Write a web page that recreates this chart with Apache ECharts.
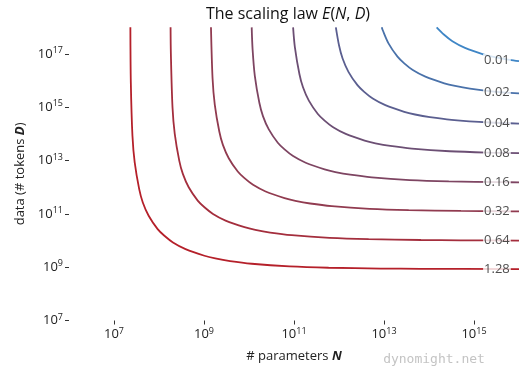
<!DOCTYPE html>
<html><head><meta charset="utf-8">
<script src="https://cdn.jsdelivr.net/npm/echarts@6/dist/echarts.min.js"></script>
<style>html,body{margin:0;padding:0;background:#fff}#c{width:528px;height:375px}</style>
</head><body><div id="c"></div>
<script>
// contour levels of E(N, D) and colours
const levels = ['0.01','0.02','0.04','0.08','0.16','0.32','0.64','1.28'];
const levelColors = ['#3f86c6','#4a72aa','#5b5f90','#6c4f74','#7e4562','#913b50','#a42e3d','#b5202a'];
// curve points: [log10 N, log10 D]
const c001 = [[14.17,18],[14.33,17.73],[14.52,17.48],[14.8,17.23],[15.22,16.98],[15.46,16.88],[15.79,16.78],[16.0,16.73]];
const c002 = [[12.95,18],[12.97,17.9],[13.1,17.4],[13.3,16.9],[13.45,16.65],[13.64,16.4],[13.92,16.15],[14.34,15.9],[14.58,15.8],[14.91,15.7],[15.39,15.6],[16.0,15.52]];
const c004 = [[11.93,18],[12.0,17.33],[12.08,16.83],[12.21,16.33],[12.41,15.83],[12.56,15.58],[12.75,15.33],[13.03,15.08],[13.45,14.83],[13.69,14.73],[14.02,14.63],[14.5,14.53],[15.34,14.43],[16.0,14.39]];
const c008 = [[10.98,18],[11.02,17.25],[11.12,16.25],[11.2,15.75],[11.33,15.25],[11.53,14.75],[11.68,14.5],[11.87,14.25],[12.15,14.0],[12.57,13.75],[12.81,13.65],[13.14,13.55],[13.62,13.45],[14.46,13.35],[15.33,13.3],[16.0,13.28]];
const c016 = [[10.06,18],[10.08,17.17],[10.13,16.17],[10.23,15.17],[10.31,14.67],[10.44,14.17],[10.64,13.67],[10.79,13.42],[10.98,13.17],[11.26,12.92],[11.68,12.67],[11.92,12.57],[12.25,12.47],[12.73,12.37],[13.57,12.27],[14.44,12.22],[15.6,12.19],[16.0,12.185]];
const c032 = [[9.155,18],[9.19,16.09],[9.24,15.09],[9.34,14.09],[9.42,13.59],[9.55,13.09],[9.75,12.59],[9.9,12.34],[10.09,12.09],[10.37,11.84],[10.79,11.59],[11.03,11.49],[11.36,11.39],[11.84,11.29],[12.68,11.19],[13.55,11.14],[14.71,11.11],[15.59,11.1],[16.0,11.095]];
const c064 = [[8.257,18],[8.264,17],[8.3,15],[8.35,14],[8.45,13],[8.53,12.5],[8.66,12],[8.86,11.5],[9.01,11.25],[9.2,11.0],[9.48,10.75],[9.9,10.5],[10.14,10.4],[10.47,10.3],[10.95,10.2],[11.79,10.1],[12.66,10.05],[13.82,10.02],[14.7,10.01],[16.0,10.0]];
const c128 = [[7.364,18],[7.374,15.93],[7.41,13.93],[7.46,12.93],[7.56,11.93],[7.64,11.43],[7.77,10.93],[7.97,10.43],[8.12,10.18],[8.31,9.93],[8.59,9.68],[9.01,9.43],[9.25,9.33],[9.58,9.23],[10.06,9.13],[10.9,9.03],[11.77,8.98],[12.93,8.95],[13.81,8.94],[16.0,8.93]];
const curves = [c001,c002,c004,c008,c016,c032,c064,c128];
// contour label anchor positions
const labelN = [15.51,15.51,15.51,15.51,15.51,15.51,15.51,15.51];
const labelD = [16.76,15.55,14.4,13.28,12.185,11.1,10.0,8.935];
// axis ticks (exponents)
const xTicks = [7,9,11,13,15];
const yTicks = [7,9,11,13,15,17];

const FONT = 'Open Sans';
const supFmt = v => '{b|10}{s|' + v + '}';
const rich = {
  b: {fontSize: 13, fontFamily: FONT, color: '#222'},
  s: {fontSize: 9, fontFamily: FONT, color: '#222', padding: [0,0,7,0]}
};

const series = curves.map((pts, i) => ({
  type: 'line', data: pts, smooth: 0.3, showSymbol: false, symbol: 'none',
  lineStyle: {color: levelColors[i], width: 1.8}, z: 2, silent: true
}));
series.push({
  type: 'scatter', symbolSize: 0, z: 5, silent: true,
  data: levels.map((l, i) => [labelN[i], labelD[i], l]),
  label: {
    show: true, position: 'inside', formatter: p => p.value[2],
    fontFamily: FONT, fontSize: 13, color: '#222',
    backgroundColor: '#fff', padding: [0, 1, 0, 1]
  }
});

const chart = echarts.init(document.getElementById('c'), null, {renderer: 'canvas'});
chart.setOption({
  animation: false,
  backgroundColor: '#fff',
  grid: {left: 69, right: 9, top: 27.35, bottom: 54.5, containLabel: false},
  xAxis: {
    type: 'value', min: 6, max: 16,
    axisLine: {show: false},
    axisTick: {show: true, length: 4, lineStyle: {color: '#333'}, customValues: xTicks},
    axisLabel: {customValues: xTicks, formatter: supFmt, rich: rich, margin: 6},
    splitLine: {show: false},
    name: '# parameters {i|N}', nameLocation: 'middle', nameGap: 29,
    nameTextStyle: {fontFamily: FONT, fontSize: 13, color: '#222',
      rich: {i: {fontFamily: FONT, fontSize: 13, fontStyle: 'italic', fontWeight: 'bold', color: '#222'}}}
  },
  yAxis: {
    type: 'value', min: 7, max: 18,
    axisLine: {show: false},
    axisTick: {show: true, length: 4, lineStyle: {color: '#333'}, customValues: yTicks},
    axisLabel: {customValues: yTicks, formatter: supFmt, rich: rich, margin: 6},
    splitLine: {show: false},
    name: 'data (# tokens {i|D})', nameLocation: 'middle', nameGap: 36,
    nameTextStyle: {fontFamily: FONT, fontSize: 13, color: '#222',
      rich: {i: {fontFamily: FONT, fontSize: 13, fontStyle: 'italic', fontWeight: 'bold', color: '#222'}}}
  },
  graphic: [{
    type: 'text', x: 288, y: 14,
    style: {text: 'The scaling law {i|E}({i|N}, {i|D})', align: 'center', verticalAlign: 'middle',
      font: '16px "Open Sans"', fill: '#111',
      rich: {i: {fontFamily: FONT, fontSize: 16, fontStyle: 'italic', fill: '#111'}}}
  }, {
    type: 'text', x: 434, y: 360,
    style: {text: 'dynomight.net', align: 'center', verticalAlign: 'middle', font: '13px "DejaVu Sans Mono"', fill: '#c4c4c4'}
  }],
  series: series
});
</script></body></html>
